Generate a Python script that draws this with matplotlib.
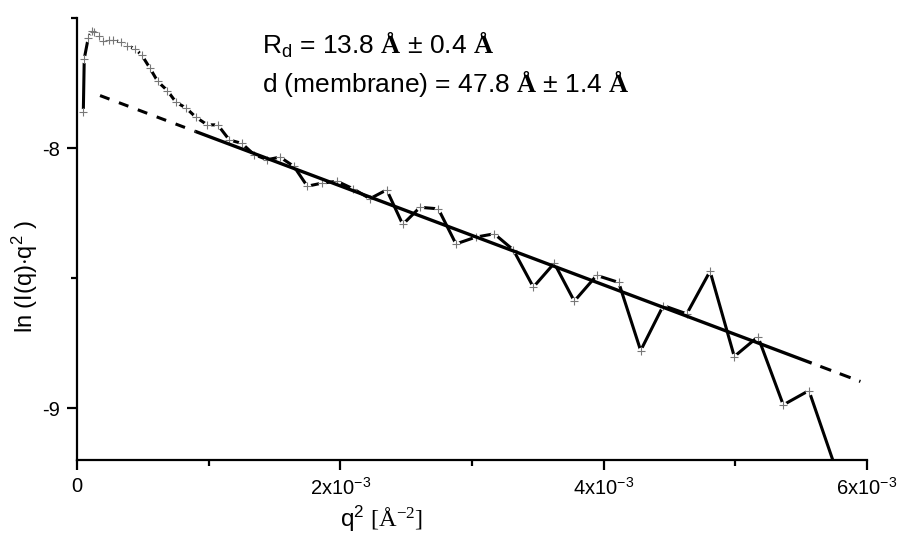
import numpy as np
import matplotlib
matplotlib.use("Agg")
import matplotlib.pyplot as plt
from matplotlib.ticker import FixedLocator, FuncFormatter

plt.rcParams['font.family'] = ['Liberation Sans', 'DejaVu Sans']
plt.rcParams['mathtext.fontset'] = 'custom'
plt.rcParams['mathtext.rm'] = 'Liberation Sans'
plt.rcParams['mathtext.it'] = 'Liberation Sans:italic'
plt.rcParams['mathtext.bf'] = 'Liberation Serif:bold'
plt.rcParams['mathtext.sf'] = 'Liberation Serif'

# q^2 in 1e-3 A^-2, ln(I(q) q^2)
q2 = np.array([0.048, 0.055, 0.086, 0.112, 0.131, 0.169, 0.200, 0.245, 0.276,
               0.334, 0.382, 0.441, 0.491, 0.554, 0.613, 0.686, 0.752, 0.828,
               0.904, 0.990, 1.069, 1.157, 1.251, 1.344, 1.445, 1.542, 1.648,
               1.749, 1.861, 1.975, 2.098, 2.225, 2.352, 2.474, 2.605, 2.744,
               2.878, 3.027, 3.169, 3.314, 3.466, 3.625, 3.777, 3.947, 4.114,
               4.281, 4.453, 4.631, 4.808, 4.992, 5.172, 5.364, 5.559, 5.757]) * 1e-3
ln_iq2 = np.array([-7.860, -7.657, -7.575, -7.551, -7.552, -7.570, -7.590, -7.585,
                   -7.585, -7.593, -7.606, -7.619, -7.642, -7.693, -7.744, -7.779,
                   -7.824, -7.846, -7.882, -7.911, -7.911, -7.969, -7.982, -8.025,
                   -8.045, -8.035, -8.071, -8.147, -8.135, -8.128, -8.157, -8.195,
                   -8.161, -8.294, -8.228, -8.234, -8.369, -8.343, -8.330, -8.392,
                   -8.535, -8.443, -8.589, -8.490, -8.517, -8.779, -8.606, -8.638,
                   -8.474, -8.802, -8.726, -8.988, -8.933, -9.225])

# linear fit: ln(I q^2) = b - d^2/12 * q^2
d_membrane = 47.8
fit_intercept = -7.765
fit_range = (0.90e-3, 5.58e-3)
extrap_range = (0.175e-3, 5.95e-3)

fig = plt.figure(figsize=(8.97, 5.37), dpi=100)
ax = fig.add_axes([77 / 897, 1 - 460 / 537, 790 / 897, 442 / 537])

# data line with gaps around the symbols
ax.plot(q2, ln_iq2, color='black', lw=2.2, zorder=2, solid_capstyle='butt')
ax.plot(q2, ln_iq2, ls='none', marker='o', ms=5.5, mfc='white', mec='none', zorder=3)
ax.plot(q2, ln_iq2, ls='none', marker='+', ms=6, mew=0.8, color='#777777', zorder=4)

def fit(x):
    return fit_intercept - d_membrane ** 2 / 12 * x

xe = np.array([extrap_range[0], fit_range[0]])
ax.plot(xe, fit(xe), color='black', lw=2.2, ls=(0, (3.3, 3.3)), zorder=5)
xe = np.array([fit_range[1], extrap_range[1]])
ax.plot(xe, fit(xe), color='black', lw=2.2, ls=(3.8, (3.8, 3.0)), zorder=5)
xf = np.array(fit_range)
ax.plot(xf, fit(xf), color='black', lw=2.4, zorder=5, solid_capstyle='butt')

ax.set_xlim(0, 6e-3)
ax.set_ylim(-9.2, -7.5)

for s in ['top', 'right']:
    ax.spines[s].set_visible(False)
for s in ['left', 'bottom']:
    ax.spines[s].set_linewidth(1.6)

ax.xaxis.set_major_locator(FixedLocator([0, 2e-3, 4e-3, 6e-3]))
ax.xaxis.set_minor_locator(FixedLocator([1e-3, 3e-3, 5e-3]))
ax.yaxis.set_major_locator(FixedLocator([-9, -8]))
ax.yaxis.set_minor_locator(FixedLocator([-8.5, -7.5]))

def xfmt(v, pos):
    if abs(v) < 1e-12:
        return '0'
    return '%dx10$^{-3}$' % round(v * 1e3)

ax.xaxis.set_major_formatter(FuncFormatter(xfmt))
ax.yaxis.set_major_formatter(FuncFormatter(lambda v, p: '%d' % v))
ax.tick_params(which='major', direction='out', length=7, width=1.6, labelsize=14.5, pad=5)
ax.tick_params(which='minor', direction='out', length=4, width=1.6)

ax.set_xlabel(r'q$^{2}$ $\mathsf{[Å^{-2}]}$', fontsize=17.5)
ax.set_ylabel(r'ln (I(q)$\cdot$q$^{2}$ )', fontsize=17)
ax.xaxis.set_label_coords(0.385, -0.098)
ax.yaxis.set_label_coords(-0.047, 0.416)

ax.text(0.234, 0.918, r'R$_\mathrm{d}$ = 13.8 $\mathbf{Å}$ ± 0.4 $\mathbf{Å}$',
        transform=ax.transAxes, fontsize=19, va='baseline')
ax.text(0.234, 0.832, r'd (membrane) = 47.8 $\mathbf{Å}$ ± 1.4 $\mathbf{Å}$',
        transform=ax.transAxes, fontsize=19, va='baseline')

fig.savefig('out.png', dpi=100)
